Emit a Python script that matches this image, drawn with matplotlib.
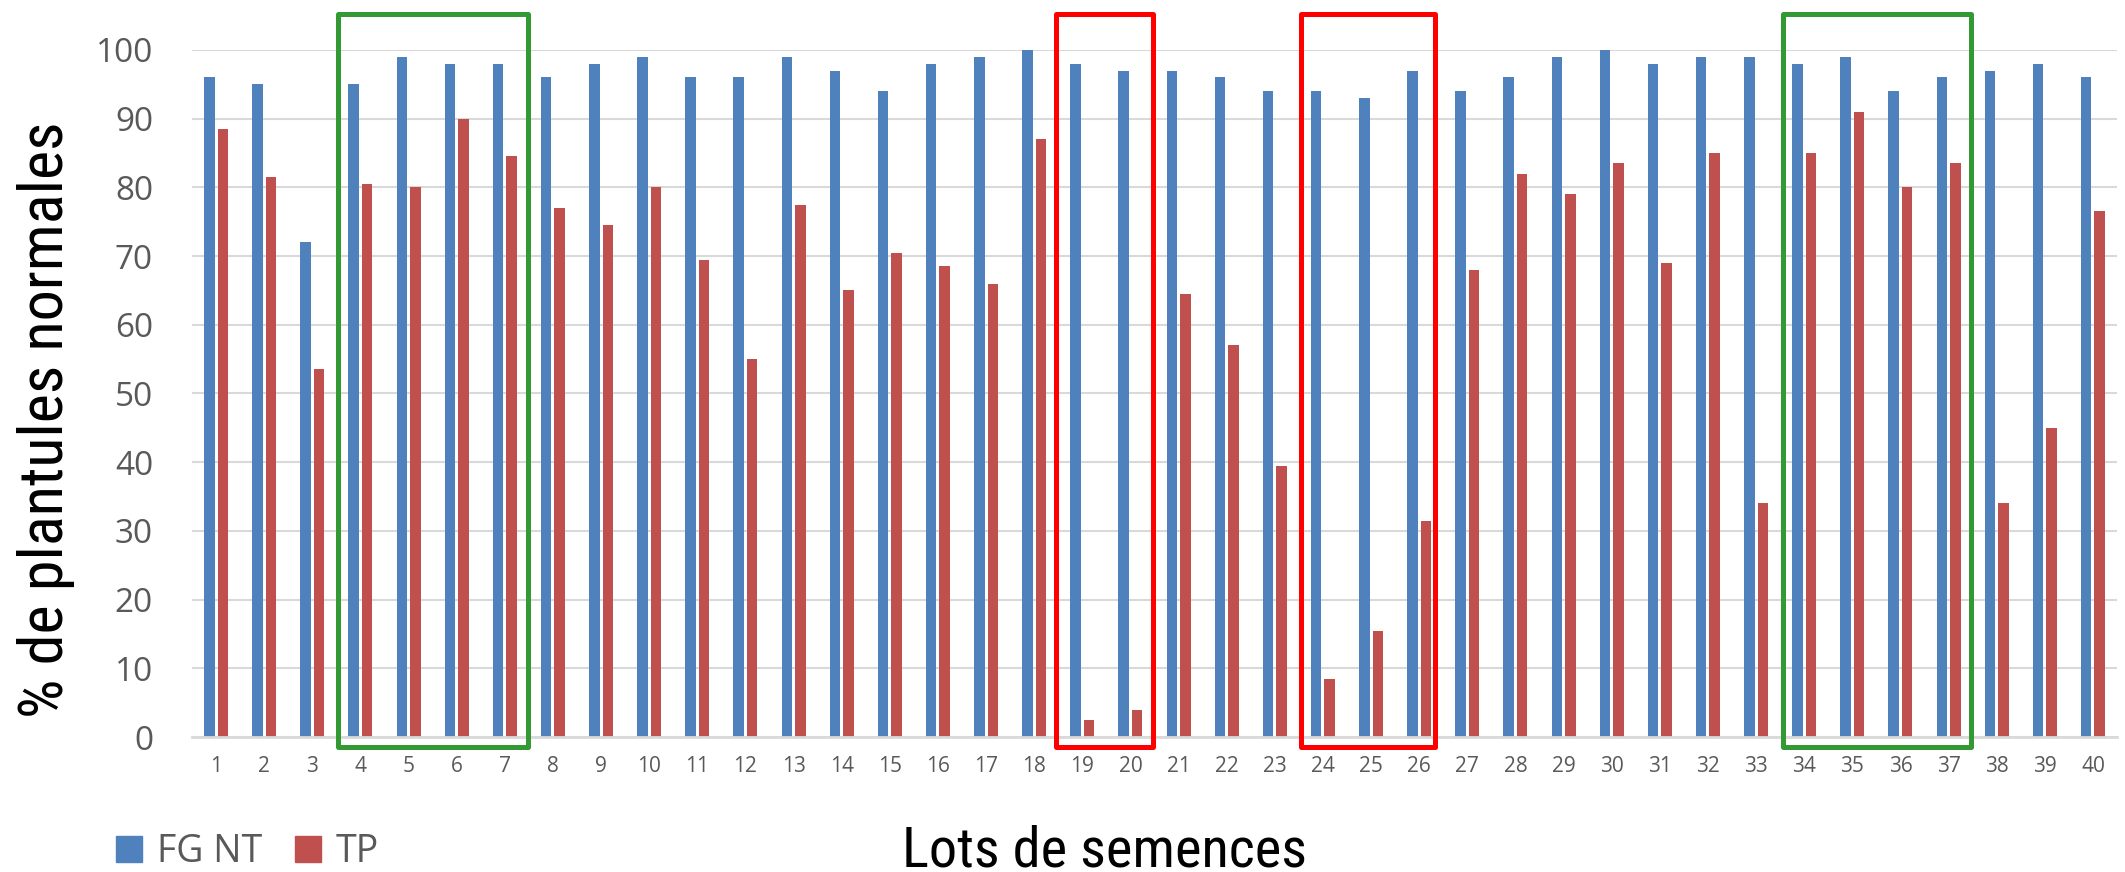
import numpy as np
import matplotlib
matplotlib.use('Agg')
import matplotlib.pyplot as plt
from matplotlib import font_manager as fm
from matplotlib.patches import Rectangle, Patch

# lots 1..40
lots = list(range(1, 41))

fg_nt = [96, 95, 72, 95, 99, 98, 98, 96, 98, 99,
         96, 96, 99, 97, 94, 98, 99, 100, 98, 97,
         97, 96, 94, 94, 93, 97, 94, 96, 99, 100,
         98, 99, 99, 98, 99, 94, 96, 97, 98, 96]

tp = [88.5, 81.5, 53.5, 80.5, 80, 90, 84.5, 77, 74.5, 80,
      69.5, 55, 77.5, 65, 70.5, 68.5, 66, 87, 2.5, 4,
      64.5, 57, 39.5, 8.5, 15.5, 31.5, 68, 82, 79, 83.5,
      69, 85, 34, 85, 91, 80, 83.5, 34, 45, 76.5]

# highlighted groups of lots (first, last, colour)
groups = [(4, 7, '#339933'), (19, 20, '#ff0000'),
          (24, 26, '#ff0000'), (34, 37, '#339933')]
# hand drawn boxes: left/right overhang in category units
box_pad = [(0.47, 0.48), (0.545, 0.47), (0.45, 0.33), (0.43, 0.46)]

series_names = ['FG NT', 'TP']
c_blue = '#4F81BD'
c_red = '#C0504D'
grey = '#595959'
tick_font = 'Open Sans'


def narrow_font():
    # look for an Arial Narrow like face, fall back on any condensed one
    prefs = ['Liberation Sans Narrow', 'Arial Narrow', 'Roboto Condensed',
             'Noto Sans Condensed', 'Noto Sans', 'DejaVu Sans Condensed',
             'DejaVu Sans', 'Open Sans Condensed', 'Open Sans']
    regular = (400, 'normal', 'regular', 'book', 'medium')
    for name in prefs:
        for f in fm.fontManager.ttflist:
            if f.name != name or f.style != 'normal' or f.weight not in regular:
                continue
            tag = (f.name + ' ' + f.fname).lower()
            if 'narrow' in tag or 'condensed' in tag or \
               str(f.stretch) in ('condensed', 'semi-condensed'):
                if 'extra' in tag or 'ultra' in tag or 'bold' in tag:
                    continue
                return fm.FontProperties(fname=f.fname)
    return fm.FontProperties(family='Liberation Sans')


label_prop = narrow_font()

W, H = 2125, 872
fig = plt.figure(figsize=(W / 100, H / 100), dpi=100)
ax = fig.add_axes([192 / W, 1 - 737 / H, (2117 - 192) / W, 687 / H])

x = np.array(lots)
width = 0.22
off = 0.14
ax.bar(x - off, fg_nt, width, color=c_blue, zorder=3)
ax.bar(x + off, tp, width, color=c_red, zorder=3)

ax.set_xlim(0.5, 40.5)
ax.set_ylim(0, 100)
ax.set_yticks(np.arange(0, 101, 10))
ax.set_xticks(x)
ax.set_xticklabels([str(v) for v in lots])

ax.yaxis.grid(True, color='#d9d9d9', lw=1.5, zorder=0)
ax.set_axisbelow(True)
for s in ['top', 'right', 'left']:
    ax.spines[s].set_visible(False)
ax.spines['bottom'].set_color('#d9d9d9')
ax.spines['bottom'].set_linewidth(2)
ax.spines['bottom'].set_zorder(4)

ax.tick_params(axis='y', length=0, pad=28, labelsize=24, labelcolor=grey)
ax.tick_params(axis='x', length=0, pad=14, labelsize=15, labelcolor=grey)
for t in ax.get_yticklabels() + ax.get_xticklabels():
    t.set_fontfamily(tick_font)

# boxes around the groups
for (a, b, col), (pl, pr) in zip(groups, box_pad):
    r = Rectangle((a - pl, -1.45), (b + pr) - (a - pl), 106.75,
                  fill=False, ec=col, lw=3.6, joinstyle='round',
                  clip_on=False, zorder=5)
    ax.add_patch(r)

ylab = fig.text(46 / W, 1 - 420 / H, '% de plantules normales', rotation=90,
                ha='center', va='center', fontproperties=label_prop,
                fontsize=47, color='black')
xlab = fig.text(1104 / W, 1 - 866 / H, 'Lots de semences', ha='center',
                va='baseline', fontproperties=label_prop, fontsize=43,
                color='black')

# size the two axis titles to the lengths seen in the original
r = fig.canvas.get_renderer()
h = ylab.get_window_extent(r).height
ylab.set_fontsize(47 * 596 / h)
w = xlab.get_window_extent(r).width
xlab.set_fontsize(43 * 404 / w)

handles = [Patch(color=c_blue), Patch(color=c_red)]
fig.legend(handles, series_names, loc='center left',
           bbox_to_anchor=(116 / W, 1 - 852 / H), frameon=False,
           ncol=2, handlelength=0.69, handleheight=0.69,
           handletextpad=0.4, columnspacing=0.88, borderpad=0,
           borderaxespad=0, labelcolor=grey,
           prop={'family': tick_font, 'size': 27})

fig.savefig('out.png', dpi=100)
